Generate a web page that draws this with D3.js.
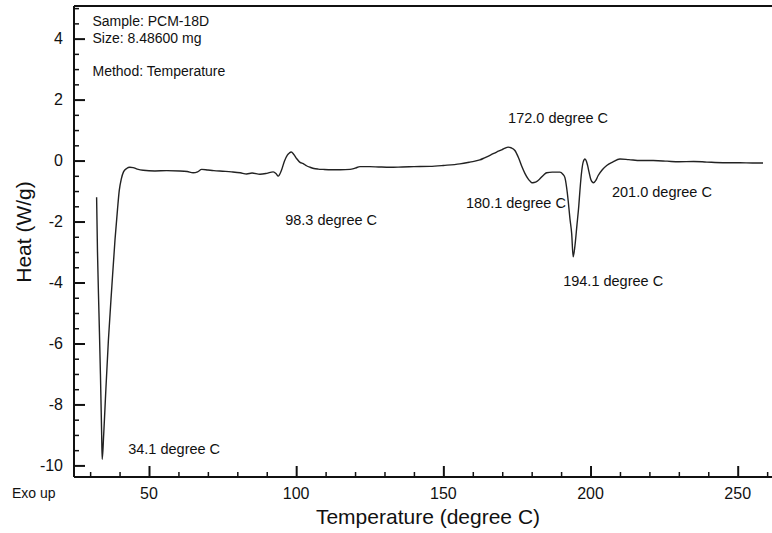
<!DOCTYPE html>
<html>
<head>
<meta charset="utf-8">
<script src="https://cdn.jsdelivr.net/npm/d3@7"></script>
<style>
  html, body { margin: 0; padding: 0; background: #fff; }
  svg { display: block; }
  text { font-family: "Liberation Sans", Arial, Helvetica, sans-serif; fill: #111; }
</style>
</head>
<body>
<svg id="chart" width="772" height="533"></svg>
<script>
// DSC trace: temperature (degree C) and heat flow (W/g)
const temperature = [
  32.2, 32.5, 33.0, 33.5, 33.9, 34.1, 34.6, 35.2, 36.2, 37.4, 38.45, 39.3, 39.9, 40.6,
  41.3, 42.4, 43.5, 44.6, 46, 48, 52, 56, 60.5, 63, 65, 66.5, 67.9, 70, 72, 75, 78, 81,
  83.2, 85, 87.7, 90, 92.2, 93.2, 93.9, 95, 96, 97, 97.7, 98.3, 99.2, 100.2, 101.3,
  102.4, 103.5, 104.7, 106, 107.5, 109.2, 112, 115, 118.3, 120, 121.7, 125, 128, 131.9,
  136, 140, 145.4, 150, 155.6, 159, 162.4, 164, 166, 168.1, 170, 171, 172.0, 173,
  174.3, 175.5, 176.6, 177.7, 178.8, 179.6, 180.1, 180.8, 181.8, 182.8, 184, 185.1, 187,
  189.6, 190.6, 191.3, 191.9, 192.4, 193.0, 193.6, 194.1, 194.7, 195.4, 196.0, 196.4,
  197.0, 197.5, 198.1, 198.6, 199.0, 199.5, 200.1, 201.0, 201.8, 202.6, 204, 205.5,
  207.5, 210, 213, 217, 221.3, 226, 230, 235, 239.5, 245, 250.7, 255, 258.6
];
const heatFlow = [
  -1.2, -3.0, -5.0, -7.0, -8.9, -9.8, -9.0, -7.8, -5.9, -4.1, -2.6, -1.6, -0.98, -0.6,
  -0.38, -0.26, -0.22, -0.23, -0.28, -0.32, -0.34, -0.33, -0.34, -0.36, -0.40, -0.37, -0.29, -0.31, -0.33, -0.35, -0.37, -0.40,
  -0.44, -0.41, -0.45, -0.42, -0.37, -0.43, -0.51, -0.32, -0.02, 0.18, 0.25, 0.28, 0.20, 0.06, -0.06,
  -0.1, -0.17, -0.22, -0.26, -0.28, -0.29, -0.30, -0.30, -0.29, -0.25, -0.20, -0.20, -0.21, -0.22,
  -0.21, -0.20, -0.19, -0.16, -0.11, -0.05, 0.02, 0.09, 0.18, 0.28, 0.36, 0.41, 0.44, 0.42,
  0.33, 0.1, -0.18, -0.42, -0.6, -0.69, -0.73, -0.72, -0.68, -0.6, -0.48, -0.4, -0.38,
  -0.38, -0.45, -0.56, -0.9, -1.31, -1.9, -2.4, -3.16, -2.8, -2.1, -1.5, -0.98,
  -0.35, -0.05, 0.05, -0.02, -0.16, -0.38, -0.62, -0.73, -0.65, -0.49, -0.3, -0.16,
  -0.05, 0.05, 0.03, 0.0, 0.0, -0.02, -0.04, -0.03, -0.05, -0.07, -0.07, -0.08, -0.08
];

// Labelled transition temperatures
const peakTemps = [34.1, 98.3, 172.0, 180.1, 194.1, 201.0];

// Axis ticks
const xMajorTicks = [50, 100, 150, 200, 250];
const yMajorTicks = [4, 2, 0, -2, -4, -6, -8, -10];

// Sample information
const infoLines = ["Sample: PCM-18D", "Size: 8.48600 mg", "", "Method: Temperature"];

const svg = d3.select("#chart");

const plotLeft = 74, plotTop = 6, plotBottom = 477, plotRight = 772;

const x = d3.scaleLinear().domain([24.52, 261.65]).range([plotLeft, plotRight]);
const y = d3.scaleLinear().domain([5.07, -10.38]).range([plotTop, plotBottom]);

// frame: top edge
svg.append("line").attr("x1", plotLeft).attr("x2", plotRight).attr("y1", plotTop).attr("y2", plotTop)
  .attr("stroke", "#111").attr("stroke-width", 2);

// y axis with inward ticks
const yMinor = d3.range(-10, 5.01, 0.5).filter(v => Math.abs(v % 2) > 1e-6);
const yAxisG = svg.append("g").attr("transform", `translate(${plotLeft},0)`);
yAxisG.append("g")
  .call(d3.axisRight(y).tickValues(yMinor).tickSize(5).tickFormat(""))
  .call(g => g.select(".domain").remove())
  .call(g => g.selectAll("line").attr("stroke", "#111").attr("stroke-width", 1.5));
yAxisG.append("g")
  .call(d3.axisRight(y).tickValues(yMajorTicks).tickSize(11).tickFormat(""))
  .call(g => g.select(".domain").remove())
  .call(g => g.selectAll("line").attr("stroke", "#111").attr("stroke-width", 2));
yAxisG.append("line").attr("x1", 0).attr("x2", 0).attr("y1", plotTop).attr("y2", plotBottom)
  .attr("stroke", "#111").attr("stroke-width", 2);
svg.append("g").selectAll("text").data(yMajorTicks).join("text")
  .attr("x", 63).attr("y", d => y(d) + 5.5)
  .attr("text-anchor", "end").attr("font-size", 16)
  .text(d => String(d));

// x axis with inward ticks
const xMinor = d3.range(30, 261, 10).filter(v => v % 50 !== 0);
const xAxisG = svg.append("g").attr("transform", `translate(0,${plotBottom})`);
xAxisG.append("g")
  .call(d3.axisTop(x).tickValues(xMinor).tickSize(5).tickFormat(""))
  .call(g => g.select(".domain").remove())
  .call(g => g.selectAll("line").attr("stroke", "#111").attr("stroke-width", 1.5));
xAxisG.append("g")
  .call(d3.axisTop(x).tickValues(xMajorTicks).tickSize(11).tickFormat(""))
  .call(g => g.select(".domain").remove())
  .call(g => g.selectAll("line").attr("stroke", "#111").attr("stroke-width", 2));
xAxisG.append("line").attr("x1", plotLeft).attr("x2", plotRight).attr("y1", 0).attr("y2", 0)
  .attr("stroke", "#111").attr("stroke-width", 2);
svg.append("g").selectAll("text").data(xMajorTicks).join("text")
  .attr("x", d => x(d)).attr("y", 499)
  .attr("text-anchor", "middle").attr("font-size", 16)
  .text(d => d);

// axis titles
svg.append("text").attr("x", 428).attr("y", 524).attr("text-anchor", "middle")
  .attr("font-size", 21).text("Temperature (degree C)");
svg.append("text").attr("transform", "translate(31,232) rotate(-90)")
  .attr("text-anchor", "middle").attr("font-size", 21).text("Heat (W/g)");
svg.append("text").attr("x", 12).attr("y", 498).attr("font-size", 14).text("Exo up");

// sample info block
svg.append("g").selectAll("text").data(infoLines).join("text")
  .attr("x", 92.5).attr("y", (d, i) => 26 + i * 16.8)
  .attr("font-size", 14).text(d => d);

// heat-flow curve
const pts = temperature.map((t, i) => [t, heatFlow[i]]);
svg.append("path").datum(pts)
  .attr("fill", "none").attr("stroke", "#222").attr("stroke-width", 1.4)
  .attr("stroke-linejoin", "round")
  .attr("d", d3.line().x(d => x(d[0])).y(d => y(d[1])).curve(d3.curveMonotoneX));

// peak labels, offset horizontally from each peak
const labelOffsets = [26, -6, 0, -66, -10, 18.5];
const labelBaselines = [454, 225, 123, 208, 286, 197];
svg.append("g").selectAll("text").data(peakTemps).join("text")
  .attr("x", (d, i) => x(d) + labelOffsets[i])
  .attr("y", (d, i) => labelBaselines[i])
  .attr("font-size", 14.5)
  .text(d => d3.format(".1f")(d) + " degree C");
</script>
</body>
</html>
